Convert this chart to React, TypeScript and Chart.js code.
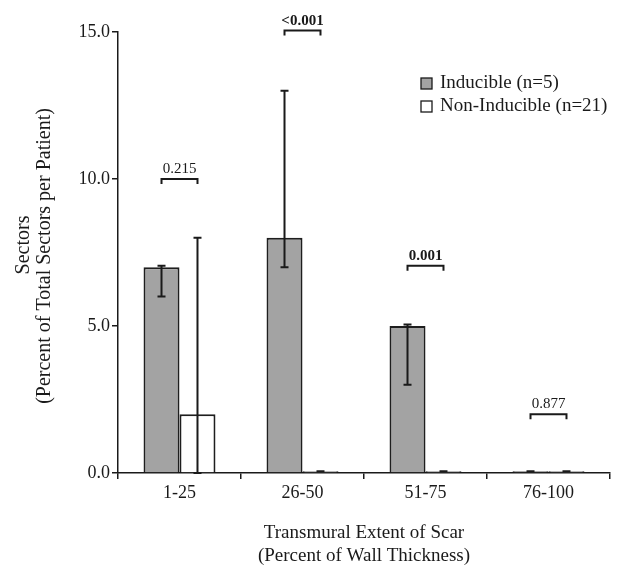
import React, { useEffect, useRef } from "react";
import { Chart, registerables } from "chart.js";

Chart.register(...registerables);

const categories = ["1-25", "26-50", "51-75", "76-100"];
const seriesLabels = ["Inducible (n=5)", "Non-Inducible (n=21)"];
const inducible = [7.0, 8.0, 5.0, 0.06];
const nonInducible = [2.0, 0.06, 0.06, 0.06];
const inducibleLow = [6.0, 7.0, 3.0, 0.06];
const inducibleHigh = [7.05, 13.0, 5.05, 0.06];
const nonInducibleLow = [0.0, 0.06, 0.06, 0.06];
const nonInducibleHigh = [8.0, 0.06, 0.06, 0.06];
const pValueLevels = [10.0, 15.05, 7.05, 2.0];
const pValueLabels = ["0.215", "<0.001", "0.001", "0.877"];
const pValueBold = [false, true, true, false];
const yTicks = [0, 5, 10, 15];

const FONT = "'Liberation Serif', 'Times New Roman', serif";
const INK = "#1a1a1a";
const FILL = "#a3a3a3";

const overlayPlugin = {
  id: "overlay",
  afterDatasetsDraw(chart: any) {
    const ctx = chart.ctx;
    const yScale = chart.scales.y;
    const lows = [inducibleLow, nonInducibleLow];
    const highs = [inducibleHigh, nonInducibleHigh];
    ctx.save();
    ctx.strokeStyle = INK;
    ctx.lineWidth = 2;
    for (let d = 0; d < 2; d++) {
      const meta = chart.getDatasetMeta(d);
      meta.data.forEach((bar: any, j: number) => {
        const x = bar.x;
        const yl = yScale.getPixelForValue(lows[d][j]);
        const yh = yScale.getPixelForValue(highs[d][j]);
        ctx.beginPath();
        ctx.moveTo(x, yl);
        ctx.lineTo(x, yh);
        ctx.moveTo(x - 4, yl);
        ctx.lineTo(x + 4, yl);
        ctx.moveTo(x - 4, yh);
        ctx.lineTo(x + 4, yh);
        ctx.stroke();
      });
    }
    ctx.restore();
  },
  afterDraw(chart: any) {
    const ctx = chart.ctx;
    const yScale = chart.scales.y;
    const area = chart.chartArea;
    const m0 = chart.getDatasetMeta(0);
    const m1 = chart.getDatasetMeta(1);
    ctx.save();
    // brackets
    ctx.strokeStyle = INK;
    ctx.fillStyle = INK;
    ctx.lineWidth = 2;
    pValueLevels.forEach((lv, j) => {
      const x0 = m0.data[j].x;
      const x1 = m1.data[j].x;
      const y = yScale.getPixelForValue(lv);
      ctx.beginPath();
      ctx.moveTo(x0, y + 5);
      ctx.lineTo(x0, y);
      ctx.lineTo(x1, y);
      ctx.lineTo(x1, y + 5);
      ctx.stroke();
      ctx.font = (pValueBold[j] ? "bold " : "") + "15px " + FONT;
      ctx.textAlign = "center";
      ctx.textBaseline = "alphabetic";
      ctx.fillText(pValueLabels[j], (x0 + x1) / 2, y - 6);
    });
    // legend
    const colors = [FILL, "#ffffff"];
    ctx.font = "19px " + FONT;
    ctx.textAlign = "left";
    ctx.textBaseline = "middle";
    seriesLabels.forEach((lab, i) => {
      const ly = area.top + 51 + i * 23;
      const lx = area.left + 303;
      ctx.fillStyle = colors[i];
      ctx.fillRect(lx, ly - 5, 11, 11);
      ctx.strokeStyle = INK;
      ctx.lineWidth = 1.3;
      ctx.strokeRect(lx, ly - 5, 11, 11);
      ctx.fillStyle = INK;
      ctx.fillText(lab, lx + 19, ly);
    });
    // axis titles
    ctx.font = "19px " + FONT;
    ctx.textAlign = "center";
    ctx.textBaseline = "middle";
    const cx = (area.left + area.right) / 2;
    ctx.fillText("Transmural Extent of Scar", cx, 533);
    ctx.fillText("(Percent of Wall Thickness)", cx, 556);
    ctx.font = "20px " + FONT;
    ctx.save();
    ctx.translate(24, 245);
    ctx.rotate(-Math.PI / 2);
    ctx.fillText("Sectors", 0, 0);
    ctx.restore();
    ctx.save();
    ctx.translate(45, 256);
    ctx.rotate(-Math.PI / 2);
    ctx.fillText("(Percent of Total Sectors per Patient)", 0, 0);
    ctx.restore();
    ctx.restore();
  },
};

export default function App() {
  const ref = useRef<HTMLCanvasElement | null>(null);
  useEffect(() => {
    if (!ref.current) return;
    const chart = new Chart(ref.current, {
      type: "bar",
      data: {
        labels: categories,
        datasets: [
          {
            label: seriesLabels[0],
            data: inducible,
            backgroundColor: FILL,
            borderColor: "#1e1e1e",
            borderWidth: 2,
            categoryPercentage: 0.585,
            barPercentage: 1.0,
          },
          {
            label: seriesLabels[1],
            data: nonInducible,
            backgroundColor: "#ffffff",
            borderColor: "#1e1e1e",
            borderWidth: 2,
            categoryPercentage: 0.585,
            barPercentage: 1.0,
          },
        ],
      },
      options: {
        responsive: false,
        animation: false,
        layout: { padding: { top: 32, right: 14, left: 0, bottom: 0 } },
        plugins: { legend: { display: false }, tooltip: { enabled: false } },
        scales: {
          x: {
            grid: {
              offset: true,
              drawOnChartArea: false,
              drawTicks: true,
              tickLength: 6,
              color: INK,
              lineWidth: 1.5,
            },
            border: { display: true, color: INK, width: 1.5 },
            ticks: { color: INK, font: { family: FONT, size: 18 }, padding: 3 },
            afterFit(scale: any) {
              scale.height = 102;
            },
          },
          y: {
            min: 0,
            max: 15,
            afterBuildTicks(scale: any) {
              scale.ticks = yTicks.map((v) => ({ value: v }));
            },
            grid: {
              drawOnChartArea: false,
              drawTicks: true,
              tickLength: 6,
              color: INK,
              lineWidth: 1.5,
            },
            border: { display: true, color: INK, width: 1.5 },
            ticks: {
              color: INK,
              font: { family: FONT, size: 18 },
              padding: 2,
              callback: (v: any) => Number(v).toFixed(1),
            },
            afterFit(scale: any) {
              scale.width = 118;
            },
          },
        },
      },
      plugins: [overlayPlugin],
    });
    return () => chart.destroy();
  }, []);
  return (
    <div style={{ position: "fixed", left: 0, top: 0, width: 624, height: 575, background: "#fff" }}>
      <canvas ref={ref} width={624} height={575} style={{ display: "block" }} />
    </div>
  );
}
